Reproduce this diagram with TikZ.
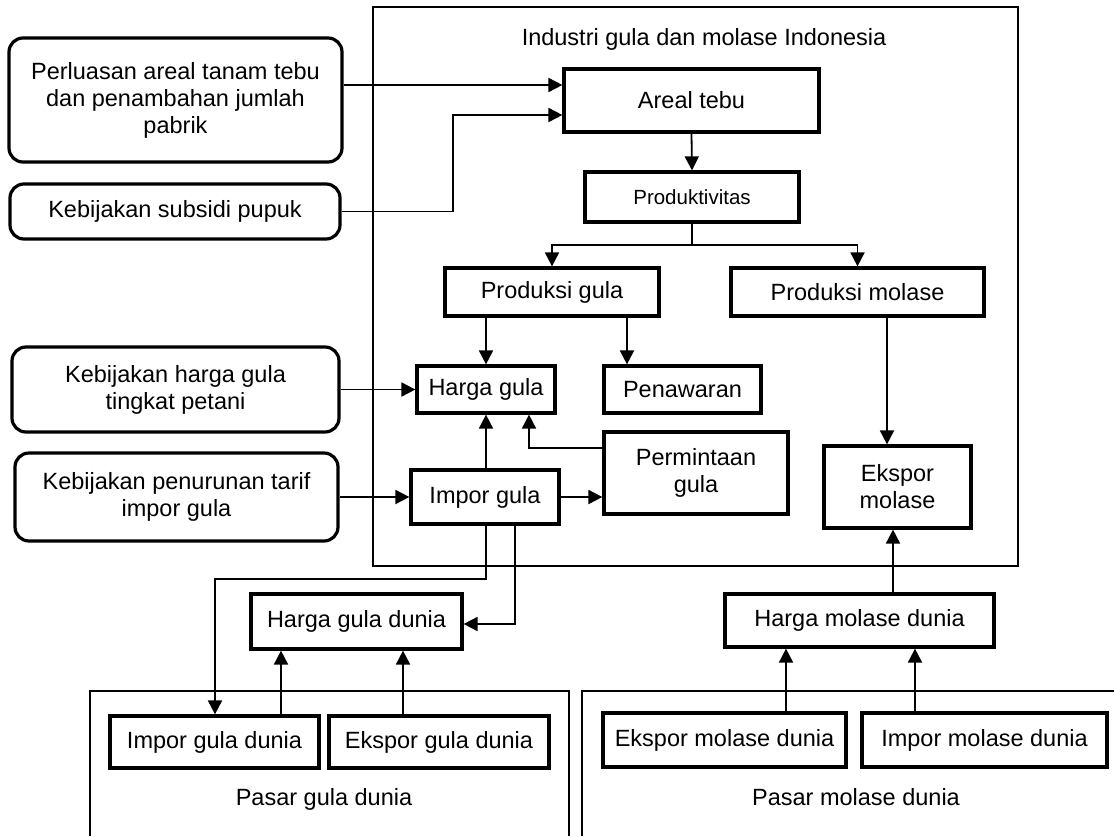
\documentclass[tikz,border=0pt]{standalone}
\usepackage{fontspec}
\setmainfont{Liberation Sans}
\usetikzlibrary{arrows.meta}
\newcommand{\mfs}{\fontsize{23.5}{27}\selectfont}
\newcommand{\sfs}{\fontsize{20.5}{24}\selectfont}
\begin{document}
\begin{tikzpicture}[x=1pt,y=-1pt,
 box/.style={draw, line width=3.2pt, inner sep=0pt, align=center, font=\mfs},
 rbox/.style={box, rounded corners=14pt},
 frame/.style={line width=1.5pt},
 arr/.style={line width=1.8pt, -{Triangle[length=14pt,width=14pt]}},
 con/.style={line width=1.8pt},
 lbl/.style={font=\mfs, inner sep=0pt}]
\useasboundingbox (0,0) rectangle (1114,836);
% containers
\draw[frame] (373,7) rectangle (1018,566);
\node[lbl] (tind) at (704,39) {Industri gula dan molase Indonesia};
\draw[frame] (90,836) -- (90,691) -- (569,691) -- (569,836);
\node[lbl] (tpg) at (324,799) {Pasar gula dunia};
\draw[frame] (582,836) -- (582,691) -- (1114,691);
\node[lbl] (tpm) at (856,797) {Pasar molase dunia};
% policy boxes
\node[rbox, minimum width=333pt, minimum height=124pt] (perl) at (175.5,100) {Perluasan areal tanam tebu\\dan penambahan jumlah\\pabrik};
\node[rbox, minimum width=330pt, minimum height=55pt] (subs) at (175,211.5) {Kebijakan subsidi pupuk};
\node[rbox, minimum width=327pt, minimum height=85pt] (kharga) at (175.5,389.5) {Kebijakan harga gula\\tingkat petani};
\node[rbox, minimum width=323pt, minimum height=88pt] (ktarif) at (176.5,497) {Kebijakan penurunan tarif\\impor gula};
% industry boxes
\node[box, minimum width=255pt, minimum height=63pt] (areal) at (691.5,100.5) {Areal tebu};
\node[box, minimum width=214pt, minimum height=50pt, font=\sfs] (prod) at (692,197) {Produktivitas};
\node[box, minimum width=214pt, minimum height=48pt] (pgula) at (552,292) {Produksi gula};
\node[box, minimum width=253pt, minimum height=48pt] (pmol) at (857.5,292) {Produksi molase};
\node[box, minimum width=138pt, minimum height=47pt] (hgula) at (486,389.5) {Harga gula};
\node[box, minimum width=157pt, minimum height=47pt] (pen) at (682.5,389.5) {Penawaran};
\node[box, minimum width=148pt, minimum height=54pt] (impor) at (485,497) {Impor gula};
\node[box, minimum width=184pt, minimum height=82pt] (perm) at (696,473) {Permintaan\\gula};
\node[box, minimum width=147pt, minimum height=82pt] (ekm) at (897.5,487) {Ekspor\\molase};
% world boxes
\node[box, minimum width=211pt, minimum height=55pt] (hgd) at (356.5,621.5) {Harga gula dunia};
\node[box, minimum width=269pt, minimum height=53pt] (hmd) at (859.5,620.5) {Harga molase dunia};
\node[box, minimum width=209pt, minimum height=52pt] (igd) at (214.5,742) {Impor gula dunia};
\node[box, minimum width=220pt, minimum height=52pt] (egd) at (439,742) {Ekspor gula dunia};
\node[box, minimum width=243pt, minimum height=54pt] (emd) at (724.5,740) {Ekspor molase dunia};
\node[box, minimum width=245pt, minimum height=54pt] (imd) at (984.5,740) {Impor molase dunia};
% helper coordinates
\coordinate (y85) at (0,85);
\coordinate (k1) at (453,115);
\coordinate (br) at (693,245);
\coordinate (xp) at (627,0);
\coordinate (pm) at (529,448);
\coordinate (c1) at (486,579);
\coordinate (c2) at (215,579);
\coordinate (c3) at (515,624);
\coordinate (x281) at (281,0);
\coordinate (x403) at (403,0);
\coordinate (x887) at (887,0);
\coordinate (x893) at (893,0);
\coordinate (x786) at (786,0);
\coordinate (x915) at (915,0);
% connectors
\draw[arr] (perl.east |- y85) -- (areal.west |- y85);
\draw[arr] (subs.east) -- (subs.east -| k1) -- (k1) -- (areal.west |- k1);
\draw[arr] (areal.south) -- (prod.north);
\draw[con] (prod.south) -- (prod.south |- br);
\draw[arr] (prod.south |- br) -| (pgula.north);
\draw[arr] (prod.south |- br) -| (pmol.north);
\draw[arr] (pgula.south -| hgula) -- (hgula.north);
\draw[arr] (pgula.south -| xp) -- (pen.north -| xp);
\draw[arr] (kharga.east) -- (hgula.west);
\draw[arr] (ktarif.east) -- (impor.west);
\draw[arr] (impor.north -| hgula) -- (hgula.south);
\draw[arr] (perm.west |- pm) -- (pm) -- (hgula.south -| pm);
\draw[arr] (impor.east) -- (perm.west |- impor.east);
\draw[arr] (impor.south -| c1) -- (c1) -- (c2) -- (igd.north -| c2);
\draw[arr] (impor.south -| c3) -- (c3) -- (hgd.east |- c3);
\draw[arr] (igd.north -| x281) -- (hgd.south -| x281);
\draw[arr] (egd.north -| x403) -- (hgd.south -| x403);
\draw[arr] (pmol.south -| x887) -- (ekm.north -| x887);
\draw[arr] (hmd.north -| x893) -- (ekm.south -| x893);
\draw[arr] (emd.north -| x786) -- (hmd.south -| x786);
\draw[arr] (imd.north -| x915) -- (hmd.south -| x915);
\end{tikzpicture}
\end{document}
